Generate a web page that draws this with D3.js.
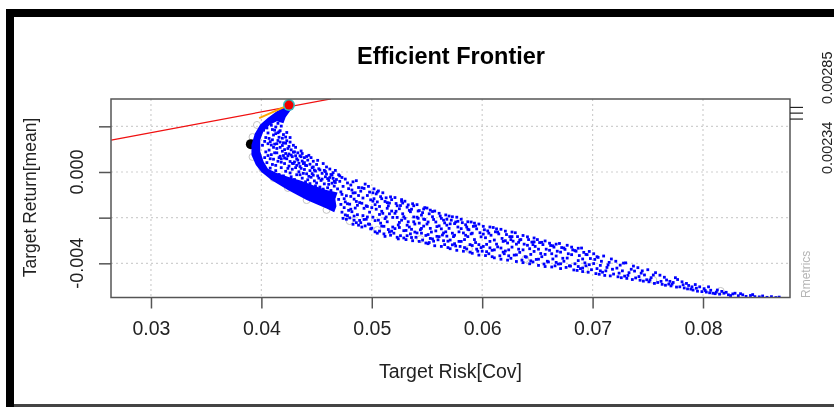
<!DOCTYPE html>
<html>
<head>
<meta charset="utf-8">
<script src="https://cdn.jsdelivr.net/npm/d3@7/dist/d3.min.js"></script>
<style>
  html, body { margin: 0; padding: 0; background: #fff; }
  svg { display: block; filter: blur(0.35px); }
  text { font-family: "Liberation Sans", Arial, sans-serif; fill: #222; }
</style>
</head>
<body>
<div id="chart"></div>
<script>
// Values
const riskTicks = [0.03, 0.04, 0.05, 0.06, 0.07, 0.08];
const returnTicks = [-0.004, -0.002, 0, 0.002];
const returnLabels = [-0.004, 0];
const rightTicks = [0.00234, 0.0026, 0.00285];
const rightLabels = [0.00234, 0.00285];

const tangentLine = [[0.0264, 0.00140], [0.0463, 0.00320]];
const orangeLine = [[0.0398, 0.00236], [0.0421, 0.00285]];
const minRiskPoint = [0.03905, 0.00122];
const tangencyPoint = [0.0425, 0.00293];

// risk in 1e-4, return in 1e-5
const coreOutline = [[425,300],[420,283],[414,266],[406,238],[399,208],[394,168],[391,118],[391,74],[395,31],[400,0],[409,-35],[424,-79],[441,-123],[459,-160],[466,-176],[468,-150],[467,-118],[469,-90],[458,-78],[448,-60],[436,-38],[426,-24],[414,-4],[406,14],[402,46],[399,90],[399,140],[402,180],[408,208],[414,222],[420,214],[422,240],[428,280]];
const frontierCircles = [[392,153],[396,206],[392,66],[401,13],[411,-26],[424,-70],[441,-123],[459,-166],[480,-215],[505,-254],[544,-294],[588,-337],[639,-381],[693,-425],[755,-473],[816,-521]];
const cloudPoints = [
[403,63],[401,117],[404,151],[402,183],[405,41],[407,96],[403,134],[406,171],[404,203],[408,17],[406,72],[409,118],[407,147],[405,193],[410,33],[412,84],[408,133],[411,162],[409,205],[413,6],[411,56],[414,103],[410,141],[412,183],[415,213],[416,-11],[413,29],[417,69],[414,124],[416,152],[413,197],[418,19],[415,47],[419,91],[417,131],[415,172],[418,201],
[420,-17],[421,37],[418,58],[422,81],[419,116],[423,137],[420,164],[417,181],[422,3],[424,-29],[425,26],[421,61],[424,103],[422,126],[426,151],[423,173],[427,-21],[426,46],[428,12],[425,79],[429,117],[427,97],[426,131],[430,-33],[431,19],[428,67],[432,58],[430,88],[429,37],[431,108],
[433,-41],[434,1],[432,29],[435,71],[433,52],[436,92],[437,-27],[435,-12],[438,37],[436,16],[439,63],[437,81],[440,-43],[441,-8],[439,11],[442,52],[440,29],[443,73],[444,-51],[445,-23],[442,-34],[446,19],[444,6],[447,47],[445,63],[448,-39],[449,-61],[447,-14],[450,33],[448,8],[451,51],[452,-27],[450,-48],
[453,-66],[455,-6],[452,14],[456,37],[454,-37],[457,-52],[458,-21],[459,22],[457,7],[460,-69],[461,-37],[459,-9],[462,13],[463,-81],[464,-49],[462,-24],[465,-3],[466,-62],[464,-14],[467,7],[468,-33],[469,-74],[467,-46],[470,-12],[465,-28],[461,-54],[456,-75],
[404,88],[406,124],[408,58],[410,186],[412,122],[409,76],[411,108],[413,168],[414,84],[416,63],[415,138],[417,108],[418,43],[416,176],[419,148],[420,72],[421,98],[420,128],[423,58],[424,16],[422,153],[425,112],[424,71],[427,74],[428,38],[426,-4],[429,87],[431,71],[430,44],[432,-12],[433,84],[434,38],[436,67],[435,24],[437,48],[438,-6],[439,41],[441,28],[441,68],[443,-19],[444,34],[446,-7],[447,22],[449,4],[451,-17],[453,9],[455,-31],[458,2],[460,-29],[463,-11],[466,-41],
[471,-17],[478,-191],[474,-63],[472,-142],[477,-104],[476,-31],[473,-176],[479,-73],[470,-120],[475,-156],[472,-87],[478,-48],[474,-203],[476,-131],[471,-41],[479,-168],[473,-98],[477,-207],[475,-117],
[483,-229],[481,-57],[487,-146],[485,-91],[489,-212],[482,-174],[486,-38],[484,-119],[488,-68],[480,-201],[487,-187],[483,-43],[486,-222],[481,-107],[489,-134],[485,-158],[482,-79],[488,-233],[484,-193],[480,-141],
[491,-241],[497,-63],[493,-159],[495,-207],[490,-84],[499,-122],[492,-191],[496,-103],[494,-53],[498,-176],[491,-137],[497,-228],[493,-72],[499,-249],[495,-148],[490,-222],[496,-197],[492,-114],[498,-88],[494,-236],
[503,-262],[501,-91],[507,-186],[505,-131],[509,-237],[502,-74],[506,-211],[504,-163],[508,-108],[500,-246],[507,-259],[503,-143],[506,-83],[501,-198],[509,-172],[505,-268],[502,-117],[508,-224],[504,-96],[500,-156],
[511,-271],[517,-109],[513,-197],[515,-148],[510,-91],[519,-241],[512,-129],[516,-263],[514,-218],[518,-171],[511,-238],[517,-277],[513,-113],[519,-199],[515,-252],[510,-181],[516,-136],[512,-282],[518,-121],[514,-159],
[523,-286],[521,-112],[527,-211],[525,-161],[529,-257],[522,-138],[526,-279],[524,-232],[528,-183],[520,-268],[527,-128],[523,-199],[526,-147],[521,-248],[529,-289],[525,-221],[522,-172],[528,-136],[524,-293],
[531,-296],[537,-139],[533,-218],[535,-174],[530,-128],[539,-263],[532,-154],[536,-287],[534,-241],[538,-197],[531,-256],[537,-301],[533,-144],[539,-228],[535,-271],[530,-203],[536,-163],[532,-279],[538,-148],
[543,-304],[541,-143],[547,-237],[545,-189],[549,-278],[542,-171],[546,-298],[544,-253],[548,-208],[540,-286],[547,-162],[543,-224],[546,-178],[541,-267],[549,-311],[545,-247],[542,-203],[548,-156],
[551,-314],[557,-171],[553,-247],[555,-196],[550,-158],[559,-282],[552,-183],[556,-303],[554,-263],[558,-219],[551,-274],[557,-323],[553,-167],[559,-239],[555,-293],[550,-228],[556,-208],[552,-309],
[563,-326],[561,-181],[567,-262],[565,-211],[569,-303],[562,-193],[566,-318],[564,-276],[568,-233],[560,-297],[567,-188],[563,-249],[566,-223],[561,-283],[569,-331],[565,-267],[568,-207],
[571,-336],[577,-198],[573,-268],[575,-226],[570,-193],[579,-304],[572,-211],[576,-324],[574,-283],[578,-241],[571,-298],[577,-343],[573,-196],[579,-262],[575,-314],[570,-247],[576,-219],
[583,-347],[581,-207],[587,-283],[585,-231],[589,-318],[582,-222],[586,-337],[584,-296],[588,-253],[580,-326],[587,-218],[583,-267],[586,-241],[581,-304],[589,-351],[585,-277],
[591,-356],[597,-228],[593,-296],[595,-249],[590,-219],[599,-331],[592,-238],[596,-347],[594,-309],[598,-266],[591,-322],[597,-364],[593,-224],[599,-284],[595,-338],[590,-271],
[603,-366],[601,-238],[607,-304],[605,-258],[609,-343],[602,-253],[606,-358],[604,-317],[608,-277],[600,-347],[607,-241],[603,-288],[606,-268],[601,-326],[609,-371],
[611,-376],[617,-251],[613,-316],[615,-271],[610,-243],[619,-351],[612,-262],[616,-367],[614,-328],[618,-291],[611,-341],[617,-382],[613,-249],[619,-304],
[623,-386],[621,-259],[627,-329],[625,-283],[629,-364],[622,-274],[626,-378],[624,-341],[628,-303],[620,-358],[627,-263],[623,-311],[626,-296],[621,-346],
[631,-392],[637,-278],[633,-338],[635,-296],[630,-266],[639,-371],[632,-283],[636,-386],[634,-352],[638,-316],[631,-363],[637,-397],[633,-308],
[643,-402],[641,-284],[647,-348],[645,-307],[649,-383],[642,-296],[646,-394],[644,-361],[648,-326],[640,-373],[647,-289],[643,-336],[646,-318],
[651,-409],[657,-302],[653,-357],[655,-318],[650,-296],[659,-391],[652,-309],[656,-403],[654,-371],[658,-338],[651,-382],[657,-414],
[663,-416],[661,-312],[667,-368],[665,-329],[669,-403],[662,-322],[666,-411],[664,-381],[668,-347],[660,-394],[667,-316],[663,-358],
[671,-423],[677,-321],[673,-378],[675,-339],[670,-313],[679,-411],[672,-331],[676,-418],[674,-391],[678,-358],[671,-402],
[683,-429],[681,-329],[687,-388],[685,-347],[689,-423],[682,-341],[686,-431],[684,-402],[688,-366],[680,-412],[687,-334],
[691,-436],[697,-348],[693,-398],[695,-362],[690,-333],[699,-428],[692,-352],[696,-439],[694,-411],[698,-379],[691,-421],
[703,-445],[701,-358],[707,-409],[705,-374],[709,-439],[702,-383],[706,-448],[704,-423],[708,-391],
[711,-453],[717,-381],[713,-418],[715,-396],[710,-368],[719,-447],[712,-433],[716,-455],[714,-407],[718,-426],
[723,-459],[721,-391],[727,-433],[725,-408],[729,-456],[722,-421],[726,-463],[724,-443],[728,-399],
[731,-466],[737,-412],[733,-441],[735,-426],[730,-398],[739,-464],[732,-453],[736,-471],[738,-434],
[743,-474],[741,-419],[747,-451],[745,-433],[749,-472],[742,-458],[746,-478],[744,-443],
[751,-481],[757,-441],[753,-463],[755,-451],[750,-428],[759,-484],[752,-473],[756,-488],
[763,-492],[761,-452],[767,-473],[765,-461],[769,-491],[762,-479],[766,-496],
[771,-499],[777,-471],[773,-484],[775,-463],[770,-479],[779,-503],[772,-491],[776,-504],
[783,-508],[781,-481],[787,-497],[785,-488],[789,-513],[782,-494],[786,-512],
[791,-517],[797,-503],[793,-493],[795,-522],[790,-503],[799,-524],[794,-509],
[803,-526],[801,-511],[807,-518],[805,-503],[809,-531],[802,-519],[806,-529],
[811,-533],[817,-523],[813,-517],[815,-535],[819,-531],[812,-526],
[823,-538],[821,-527],[827,-534],[825,-541],[829,-531],
[832,-542],[836,-538],[834,-533],[839,-545],[843,-541],[847,-546],[845,-537],[851,-547],[854,-543],[858,-549],[862,-546],[866,-550],[869,-548],
[473,-24],[476,-188],[478,-139],[481,-163],[483,-92],[486,-129],[484,-211],[488,-103],[491,-69],[493,-208],[496,-151],[498,-229],[501,-128],[503,-213],[505,-88],[507,-151],[509,-117],[512,-204],[514,-134],[516,-183],[518,-259],[521,-181],[523,-148],[525,-243],[527,-121],[529,-196],[532,-233],[534,-168],[536,-251],[538,-218],[541,-198],[543,-169],[545,-268],[547,-206],[551,-219],[553,-291],[555,-173],[558,-258],[561,-236],[563,-203],[565,-301],[568,-281],[571,-227],[573,-319],[575,-277],[578,-216],[581,-248],[584,-331],[587,-251],[591,-268],[594,-236],[597,-318],[601,-272],[604,-349],[607,-332],[611,-298],[614,-263],[617,-333],[621,-301],[624,-367],[627,-283],[631,-316],[634,-298],[637,-341],[641,-321],[644,-389],[647,-306],[651,-338],[654,-308],[657,-361],[661,-343],[664,-323],[667,-396],[671,-351],[674,-333],[677,-377],[681,-362],[684,-344],[687,-414],[691,-381],[694,-361],[697,-406],[701,-401],[704,-371],[707,-433]
];

const width = 834;
const height = 407;
const plot = { left: 111, right: 790, top: 99, bottom: 297.5 };
const axisColor = '#555';

const svg = d3.select('#chart')
    .append('svg')
    .attr('width', width)
    .attr('height', height);

// Black frame of the screenshot
svg.append('rect').attr('x', 6).attr('y', 9).attr('width', width - 6).attr('height', 8).attr('fill', '#000');
svg.append('rect').attr('x', 6).attr('y', 9).attr('width', 8).attr('height', height - 9).attr('fill', '#000');
svg.append('rect').attr('x', 14).attr('y', 404).attr('width', width - 14).attr('height', 3).attr('fill', '#444');

const x = d3.scaleLinear().domain([0.02638, 0.08788]).range([plot.left, plot.right]);
const y = d3.scaleLinear().domain([-0.005497, 0.003197]).range([plot.bottom, plot.top]);
const riskOf = v => x(v / 10000);
const returnOf = v => y(v / 100000);

svg.append('clipPath').attr('id', 'plot-clip')
    .append('rect')
    .attr('x', plot.left).attr('y', plot.top)
    .attr('width', plot.right - plot.left).attr('height', plot.bottom - plot.top);

// Dotted grid
const grid = svg.append('g')
    .attr('stroke', '#cfcfcf')
    .attr('stroke-width', 1.2)
    .attr('stroke-dasharray', '2,3');
grid.selectAll('.gx').data(riskTicks).join('line')
    .attr('x1', d => x(d)).attr('x2', d => x(d))
    .attr('y1', plot.top).attr('y2', plot.bottom);
grid.selectAll('.gy').data(returnTicks).join('line')
    .attr('x1', plot.left).attr('x2', plot.right)
    .attr('y1', d => y(d)).attr('y2', d => y(d));

const marks = svg.append('g').attr('clip-path', 'url(#plot-clip)');

// Hollow grey circles under the cloud
marks.selectAll('.frontier').data(frontierCircles).join('circle')
    .attr('cx', d => riskOf(d[0]))
    .attr('cy', d => returnOf(d[1]))
    .attr('r', 3.5)
    .attr('fill', 'none')
    .attr('stroke', '#c4c4c4');

// Minimum risk point sits behind the cloud
marks.append('circle').attr('cx', x(minRiskPoint[0])).attr('cy', y(minRiskPoint[1])).attr('r', 5).attr('fill', '#000');

// Solid part of the cloud
marks.append('path')
    .attr('d', d3.line().x(d => riskOf(d[0])).y(d => returnOf(d[1])).curve(d3.curveLinearClosed)(coreOutline))
    .attr('fill', '#0000ff');

// Sampled portfolios
marks.selectAll('.cloud').data(cloudPoints).join('rect')
    .attr('x', d => riskOf(d[0]) - 1.4)
    .attr('y', d => returnOf(d[1]) - 1.4)
    .attr('width', 2.8)
    .attr('height', 2.8)
    .attr('fill', '#0000ff');

// Tangent and orange segment
const line = d3.line().x(d => x(d[0])).y(d => y(d[1]));
marks.append('path').attr('d', line(tangentLine)).attr('fill', 'none').attr('stroke', '#f01010').attr('stroke-width', 1.3);
marks.append('path').attr('d', line(orangeLine)).attr('fill', 'none').attr('stroke', '#ffa500').attr('stroke-width', 2);

svg.append('circle').attr('cx', x(tangencyPoint[0])).attr('cy', y(tangencyPoint[1])).attr('r', 6).attr('fill', '#30c0c0');
svg.append('circle').attr('cx', x(tangencyPoint[0])).attr('cy', y(tangencyPoint[1])).attr('r', 4.5).attr('fill', '#f00000');

// Plot box
svg.append('rect')
    .attr('x', plot.left).attr('y', plot.top)
    .attr('width', plot.right - plot.left).attr('height', plot.bottom - plot.top)
    .attr('fill', 'none').attr('stroke', axisColor).attr('stroke-width', 1.5);

// Axes
const bottomAxis = svg.append('g')
    .attr('transform', `translate(0,${plot.bottom})`)
    .call(d3.axisBottom(x).tickValues(riskTicks).tickFormat(d3.format('.2f')).tickSize(11).tickPadding(13));
bottomAxis.select('.domain').remove();
bottomAxis.selectAll('line').attr('stroke', axisColor).attr('stroke-width', 1.5);
bottomAxis.selectAll('text').attr('font-size', 19.5).attr('fill', '#222');

const leftAxis = svg.append('g')
    .attr('transform', `translate(${plot.left},0)`)
    .call(d3.axisLeft(y).tickValues(returnTicks).tickFormat('').tickSize(12));
leftAxis.select('.domain').remove();
leftAxis.selectAll('line').attr('stroke', axisColor).attr('stroke-width', 1.5);

svg.selectAll('.ylab').data(returnLabels).join('text')
    .attr('transform', d => `translate(83,${y(d)}) rotate(-90)`)
    .attr('text-anchor', 'middle')
    .attr('font-size', 18)
    .text(d => d3.format('.3f')(d).replace('\u2212', '-'));

const rightAxis = svg.append('g')
    .attr('transform', `translate(${plot.right},0)`)
    .call(d3.axisRight(y).tickValues(rightTicks).tickFormat('').tickSize(13));
rightAxis.select('.domain').remove();
rightAxis.selectAll('line').attr('stroke', '#222').attr('stroke-width', 1.2);

svg.selectAll('.rlab').data(rightLabels).join('text')
    .attr('transform', d => `translate(832,${y(d) + (d === 0.00234 ? 3 : -3)}) rotate(-90)`)
    .attr('text-anchor', d => d === 0.00234 ? 'end' : 'start')
    .attr('font-size', 14.5)
    .text(d => d3.format('.5f')(d));

// Titles
svg.append('text').attr('x', 451).attr('y', 64)
    .attr('text-anchor', 'middle').attr('font-size', 23.5).attr('font-weight', 'bold').style('fill', '#000')
    .text('Efficient Frontier');
svg.append('text').attr('x', 450.5).attr('y', 378)
    .attr('text-anchor', 'middle').attr('font-size', 19.5)
    .text('Target Risk[Cov]');
svg.append('text')
    .attr('transform', 'translate(36,197.5) rotate(-90)')
    .attr('text-anchor', 'middle').attr('font-size', 17.5)
    .text('Target Return[mean]');
svg.append('text')
    .attr('transform', 'translate(810,298) rotate(-90)')
    .attr('font-size', 12).style('fill', '#b5b5b5')
    .text('Rmetrics');
</script>
</body>
</html>
